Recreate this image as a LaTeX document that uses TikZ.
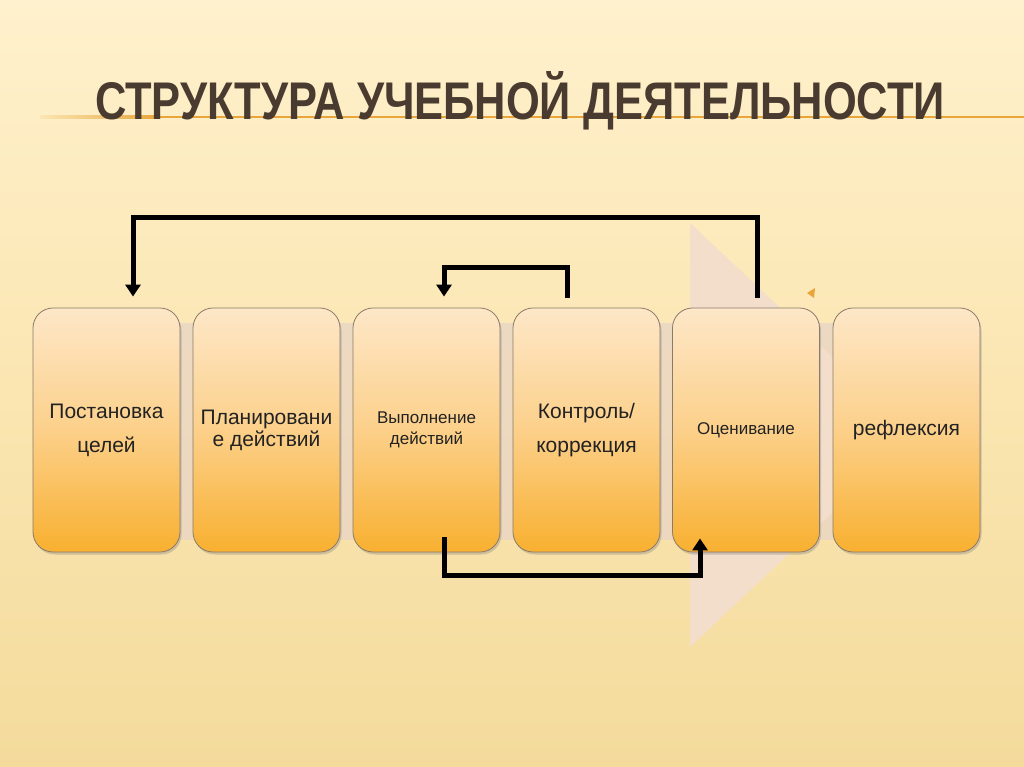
\documentclass[tikz,border=0pt]{standalone}
\usepackage{fontspec}
\setmainfont{Liberation Sans}
\usepackage{graphicx}
\usetikzlibrary{calc,arrows.meta,shadows}
\definecolor{bgtop}{HTML}{FFF1CD}
\definecolor{bgmid}{HTML}{FBE6B2}
\definecolor{bgbot}{HTML}{F4DB9C}
\definecolor{titlecol}{HTML}{4A3B30}
\definecolor{lineor}{HTML}{E9A43A}
\definecolor{boxtop}{HTML}{FDE7C8}
\definecolor{boxmid}{HTML}{FCD08A}
\definecolor{boxbot}{HTML}{F8B030}
\definecolor{boxedge}{HTML}{8A7A6A}
\definecolor{pinkband}{HTML}{E9D6C4}
\definecolor{pinktri}{HTML}{F3DDCB}
\definecolor{txt}{HTML}{222222}
\tikzset{
  stepbox/.style={draw=boxedge, line width=0.8pt, rounded corners=20pt,
    minimum width=147pt, minimum height=244pt, inner sep=2pt,
    top color=boxtop, bottom color=boxbot, middle color=boxmid,
    drop shadow={shadow xshift=1.5pt, shadow yshift=-2.5pt, opacity=0.35},
    text=txt, align=center, font=\fontsize{21}{34}\selectfont},
  smalltxt/.style={font=\fontsize{17}{21}\selectfont},
  conn/.style={line width=5pt, black},
  connarrow/.style={line width=5pt, black, -{Triangle[width=15pt,length=12pt]}}
}
\begin{document}
\begin{tikzpicture}[x=1pt,y=-1pt]
\useasboundingbox (0,0) rectangle (1024,767);
% background
\shade[top color=bgtop, bottom color=bgbot, middle color=bgmid] (0,0) rectangle (1024,767);
% title underline (behind the title)
\shade[left color=bgmid, right color=lineor] (40,115.8) rectangle (160,118.2);
\fill[lineor] (160,115.8) rectangle (1024,118.2);
% title
\node[anchor=base, text=titlecol, inner sep=0pt] (title) at (520,120)
  {\resizebox{850pt}{\height}{\fontsize{53}{60}\selectfont\bfseries СТРУКТУРА УЧЕБНОЙ ДЕЯТЕЛЬНОСТИ}};
% background process band and arrow shape
\fill[pinkband, opacity=0.8] (40,323) rectangle (975,540);
\fill[pinktri] (690,223) -- (915,435) -- (690,647) -- cycle;
\fill[lineor] (807,293) -- (815,288) -- (814,298) -- cycle;
% boxes
\node[stepbox] (b1) at (106.5,430) {Постановка\\целей};
\node[stepbox, font=\fontsize{21}{22}\selectfont] (b2) at (266.5,430) {Планировани\\е действий};
\node[stepbox, smalltxt] (b3) at (426.5,430) {Выполнение\\действий};
\node[stepbox] (b4) at (586.5,430) {Контроль/\\коррекция};
\node[stepbox, smalltxt] (b5) at (746,430) {Оценивание};
\node[stepbox] (b6) at (906.5,430) {рефлексия};
% connectors
\draw[connarrow] ($(b5.north)+(11,-10)$) |- ($(b1.north)+(26.5,-90)$) -- ($(b1.north)+(26.5,-11)$);
\draw[connarrow] ($(b4.north)+(-19.5,-10)$) |- ($(b3.north)+(17.5,-40)$) -- ($(b3.north)+(17.5,-11)$);
\draw[connarrow] ($(b3.south)+(17.5,-15)$) |- ($(b5.south)+(-46,23)$) -- ($(b5.south)+(-46,-14)$);
\end{tikzpicture}
\end{document}
